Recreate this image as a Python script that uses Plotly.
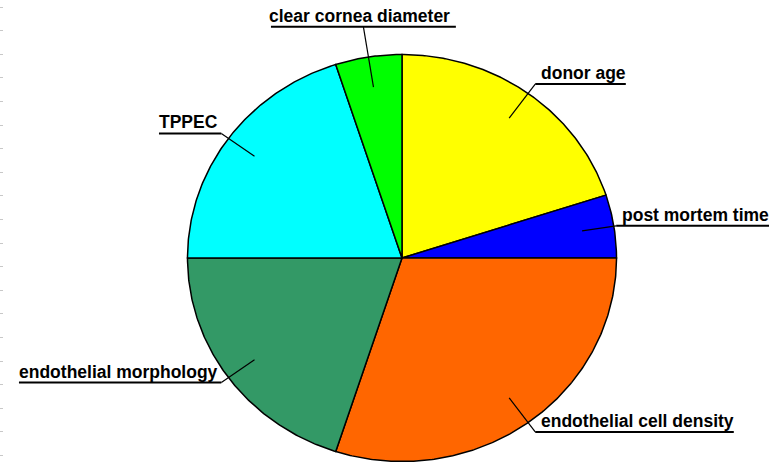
import numpy as np
import plotly.graph_objects as go

# ---- data ----
labels = ["donor age", "post mortem time", "endothelial cell density",
          "endothelial morphology", "TPPEC", "clear cornea diameter"]
values = [20, 5, 30, 20, 20, 5]
colors = ["#FFFF00", "#0000FF", "#FF6600", "#339966", "#00FFFF", "#00FF00"]

# ---- layout constants ----
W, H = 780, 462
CX, CY = 402, 258
RX, RY = 214.5, 203.5
FONT_SIZE = 17.5
FONT = "Liberation Sans, Arial, sans-serif"

ARIAL_BOLD = {
    'a': 556, 'b': 611, 'c': 556, 'd': 611, 'e': 556, 'f': 333, 'g': 611, 'h': 611,
    'i': 278, 'j': 278, 'k': 556, 'l': 278, 'm': 889, 'n': 611, 'o': 611, 'p': 611,
    'q': 611, 'r': 389, 's': 556, 't': 333, 'u': 611, 'v': 556, 'w': 778, 'x': 556,
    'y': 556, 'z': 500, ' ': 278, 'T': 611, 'P': 667, 'E': 667, 'C': 722,
}


def text_width(s):
    return sum(ARIAL_BOLD.get(c, 611) for c in s) / 1000.0 * FONT_SIZE


fig = go.Figure()
shapes = []
annotations = []

total = float(sum(values))
cum = 0.0
for lab, val, col in zip(labels, values, colors):
    a0 = cum / total * 2 * np.pi
    a1 = (cum + val) / total * 2 * np.pi
    t = np.linspace(a0, a1, max(int(val / total * 720), 8))
    xs = np.concatenate([[CX], CX + RX * np.sin(t), [CX]])
    ys = np.concatenate([[CY], CY - RY * np.cos(t), [CY]])
    fig.add_trace(go.Scatter(
        x=xs, y=ys, mode="lines", fill="toself", fillcolor=col,
        line=dict(color="black", width=1.5), hoverinfo="skip", showlegend=False))

    mid = (a0 + a1) / 2
    ux, uy = np.sin(mid), -np.cos(mid)
    sx, sy = CX + 0.85 * RX * ux, CY + 0.85 * RY * uy
    w = text_width(lab)
    if abs(ux) < 0.3:
        r_end = 1.15
        ex, ey = CX + r_end * RX * ux, CY + r_end * RY * uy
        x0, x1 = ex - w / 2 - 2, ex + w / 2 + 2
        tx, txa = ex - 4, "center"
    else:
        r_end = 1.0 + 0.07 * abs(uy)
        ex, ey = CX + r_end * RX * ux, CY + r_end * RY * uy
        if ux > 0:
            x0, x1 = ex, ex + w + 6
            tx, txa = ex + 4, "left"
        else:
            x0, x1 = ex - w - 4, ex
            tx, txa = ex - 1, "right"

    shapes.append(dict(type="line", xref="x", yref="y", x0=sx, y0=sy, x1=ex, y1=ey,
                       line=dict(color="black", width=1.2)))
    shapes.append(dict(type="line", xref="x", yref="y", x0=x0, y0=ey, x1=x1, y1=ey,
                       line=dict(color="black", width=2)))
    annotations.append(dict(x=tx, y=ey - 11, xref="x", yref="y", text=lab,
                            showarrow=False, xanchor=txa, yanchor="middle",
                            font=dict(family=FONT, size=FONT_SIZE, color="black",
                                      weight="bold")))
    cum += val

fig.update_layout(
    width=W, height=H,
    margin=dict(l=0, r=0, t=0, b=0),
    paper_bgcolor="white", plot_bgcolor="white",
    shapes=shapes, annotations=annotations,
    xaxis=dict(range=[0, W], visible=False, fixedrange=True),
    yaxis=dict(range=[H, 0], showgrid=False, zeroline=False, showline=False,
               showticklabels=False, ticks="inside", ticklen=3, tickwidth=1,
               tickcolor="#c8c8c8", tick0=7, dtick=23.6, fixedrange=True),
)

fig.write_html("out.html", config={"displayModeBar": False},
               post_script="document.body.style.margin='0';document.body.style.padding='0';")
